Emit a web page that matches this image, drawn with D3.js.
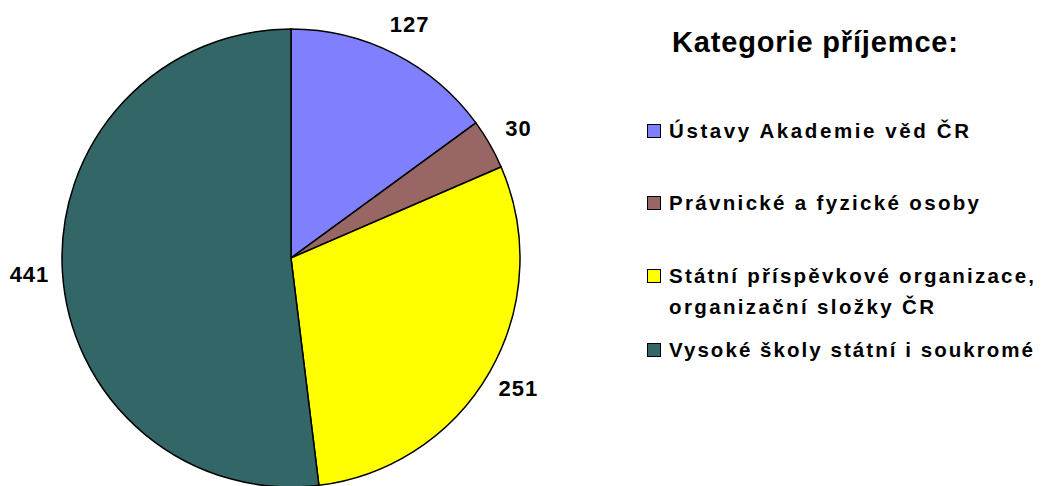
<!DOCTYPE html>
<html>
<head>
<meta charset="utf-8">
<script src="https://cdn.jsdelivr.net/npm/d3@7"></script>
<style>
  html, body { margin: 0; padding: 0; background: #fff; }
  svg { display: block; font-family: "Liberation Sans", Arial, sans-serif; font-weight: bold; }
</style>
</head>
<body>
<svg id="chart" width="1045" height="486"></svg>
<script>
// Recipient categories and counts
const categories = [
  "Ústavy Akademie věd ČR",
  "Právnické a fyzické osoby",
  "Státní příspěvkové organizace, organizační složky ČR",
  "Vysoké školy státní i soukromé"
];
const values = [127, 30, 251, 441];
const colors = ["#8080FF", "#996666", "#FFFF00", "#336666"];
// Legend text broken into lines
const legendLines = [
  ["Ústavy Akademie věd ČR"],
  ["Právnické a fyzické osoby"],
  ["Státní příspěvkové organizace,", "organizační složky ČR"],
  ["Vysoké školy státní i soukromé"]
];
const legendTitle = "Kategorie příjemce:";

const svg = d3.select("#chart");
const cx = 291, cy = 258, radius = 229, labelRadius = 262;

const data = categories.map((c, i) => ({ name: c, value: values[i], color: colors[i], lines: legendLines[i] }));

const pie = d3.pie().value(d => d.value).sort(null);
const arcs = pie(data);
const arc = d3.arc().innerRadius(0).outerRadius(radius);
const labelArc = d3.arc().innerRadius(labelRadius).outerRadius(labelRadius);

const g = svg.append("g").attr("transform", `translate(${cx},${cy})`);

g.selectAll("path.slice")
  .data(arcs)
  .join("path")
  .attr("class", "slice")
  .attr("d", arc)
  .attr("fill", d => d.data.color)
  .attr("stroke", "#000")
  .attr("stroke-width", 1.5)
  .attr("stroke-linejoin", "round");

g.selectAll("text.value")
  .data(arcs)
  .join("text")
  .attr("class", "value")
  .attr("transform", d => `translate(${labelArc.centroid(d)})`)
  .attr("text-anchor", "middle")
  .attr("dy", "0.36em")
  .attr("font-size", 22)
  .attr("letter-spacing", 1)
  .attr("fill", "#000")
  .text(d => d.data.value);

// Spread a line's letters so it spans the given width
function fitWidth(sel, width) {
  sel.each(function() {
    const n = this.getNumberOfChars();
    const natural = this.getComputedTextLength();
    if (n > 1) d3.select(this).attr("letter-spacing", (width - natural) / (n - 1));
  });
}

// Legend
const legend = svg.append("g");
legend.append("text")
  .attr("x", 672)
  .attr("y", 52)
  .attr("font-size", 29)
  .attr("fill", "#000")
  .text(legendTitle)
  .call(fitWidth, 286);

const baselines = [138, 210, 283, 357];
const lineGap = 31;
const lineWidths = [[300], [310], [365, 265], [364]];

const items = legend.selectAll("g.item")
  .data(data)
  .join("g")
  .attr("class", "item")
  .attr("transform", (d, i) => `translate(0,${baselines[i]})`);

items.append("rect")
  .attr("x", 647.5)
  .attr("y", -13.5)
  .attr("width", 13)
  .attr("height", 13)
  .attr("fill", d => d.color)
  .attr("stroke", "#000")
  .attr("stroke-width", 1);

items.each(function(d, i) {
  d.lines.forEach((line, j) => {
    d3.select(this).append("text")
      .attr("x", 669)
      .attr("y", j * lineGap)
      .attr("font-size", 20.5)
      .attr("fill", "#000")
      .text(line)
      .call(fitWidth, lineWidths[i][j]);
  });
});
</script>
</body>
</html>
